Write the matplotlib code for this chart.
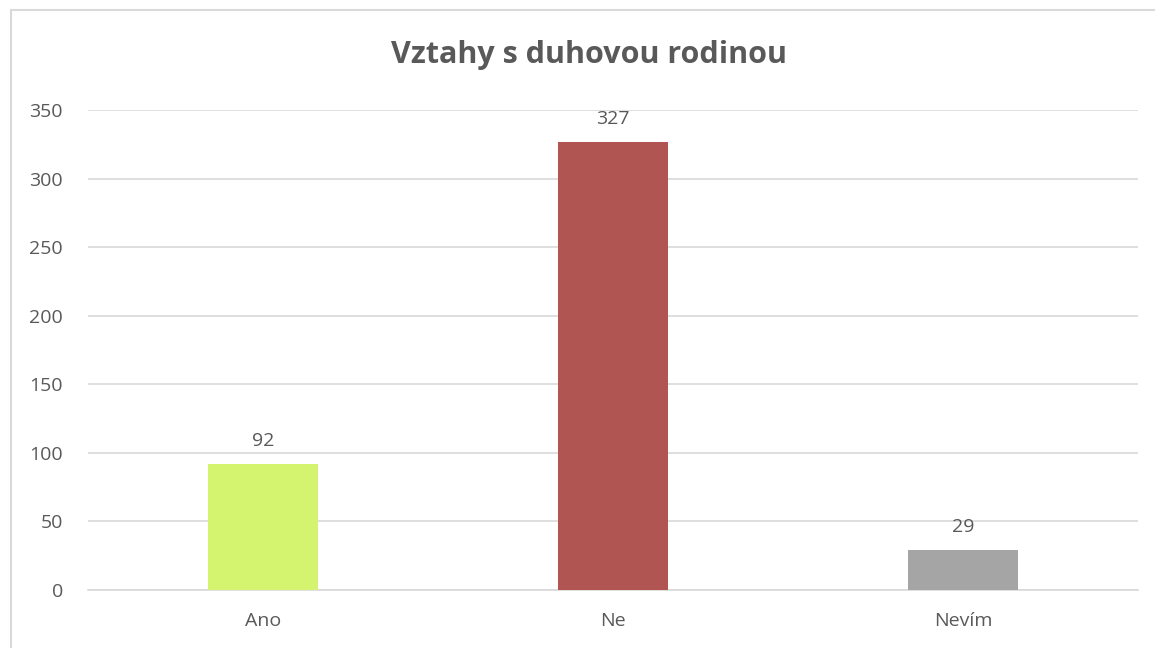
import matplotlib.pyplot as plt
from matplotlib.patches import Rectangle

plt.rcParams['font.family'] = ['Open Sans', 'DejaVu Sans']

kategorie = ['Ano', 'Ne', 'Nevím']
pocty = [92, 327, 29]
barvy = ['#d4f46f', '#b05552', '#a5a5a5']
y_ticks = [0, 50, 100, 150, 200, 250, 300, 350]

text_barva = '#595959'
mrizka = '#d9d9d9'

fig = plt.figure(figsize=(11.55, 6.48), dpi=100)
ax = fig.add_axes([88 / 1155, 1 - 590 / 648, 1050 / 1155, 480 / 648])

# ramecek grafu (oriznuty vpravo a dole)
fig.patches.append(Rectangle((10.5 / 1155, -0.1), 1.2, 1 - 10.5 / 648 + 0.1,
                             transform=fig.transFigure, fill=False,
                             edgecolor='#d9d9d9', linewidth=1.5))

x = range(len(kategorie))
sloupce = ax.bar(x, pocty, width=0.314, color=barvy, zorder=3)
for s, v in zip(sloupce, pocty):
    ax.annotate(str(v), (s.get_x() + s.get_width() / 2, v),
                xytext=(0, 10), textcoords='offset points',
                ha='center', va='bottom', fontsize=14, color=text_barva)

ax.set_xlim(-0.5, 2.5)
ax.set_ylim(0, 350)
ax.set_yticks(y_ticks)
ax.set_xticks(list(x))
ax.set_xticklabels(kategorie)
ax.tick_params(axis='both', length=0, labelsize=14, labelcolor=text_barva)
ax.tick_params(axis='y', pad=18)
ax.tick_params(axis='x', pad=16)
ax.grid(axis='y', color=mrizka, linewidth=1.2, zorder=0)
for k in ['top', 'right', 'left']:
    ax.spines[k].set_visible(False)
ax.spines['bottom'].set_color(mrizka)
ax.spines['bottom'].set_linewidth(1.2)

fig.text(589 / 1155, 1 - 55 / 648, 'Vztahy s duhovou rodinou', ha='center',
         va='center', fontsize=22, fontweight='bold', color=text_barva)

fig.savefig('out.png', dpi=100)
